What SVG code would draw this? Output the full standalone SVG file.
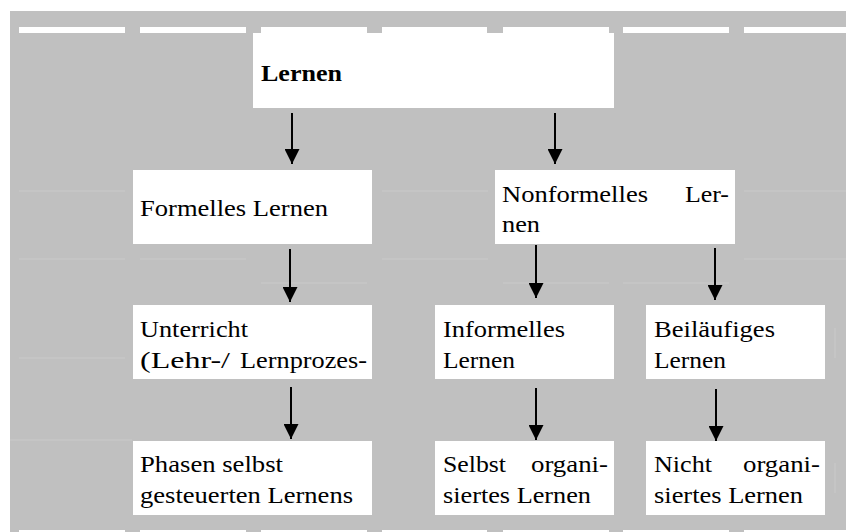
<svg xmlns="http://www.w3.org/2000/svg" width="846" height="532" viewBox="0 0 846 532">
<defs>
<style>
.bg{fill:#c0c0c0}
.seg{fill:#ffffff}
.box{fill:#ffffff}
.grid{stroke:#cacaca;stroke-width:1;fill:none}
.t{font-family:"Liberation Serif","Times New Roman",serif;font-size:24px;fill:#000}
.b{font-weight:bold}
.arr{stroke:#000;stroke-width:2;fill:none;marker-end:url(#ah)}
</style>
<marker id="ah" viewBox="0 0 15 15" refX="15" refY="7.5" markerWidth="15" markerHeight="15" markerUnits="userSpaceOnUse" orient="auto">
<path d="M0,0 L15,7.5 L0,15 z" fill="#000"/>
</marker>
</defs>
<rect class="bg" x="10" y="11" width="836" height="521"/>
<g id="grid">
<path class="grid" d="M19,191H125 M382,191H488 M744,191H846 M19,259H125 M140,259H246 M382,259H488 M744,259H846 M261,283H367 M503,283H609 M623,283H729 M19,358H125 M10,440H132 M835,328V358 M835,463V493"/>
</g>
<g id="top-rule">
<rect class="seg" x="19" y="27" width="106" height="6"/>
<rect class="seg" x="140" y="27" width="106" height="6"/>
<rect class="seg" x="261" y="27" width="106" height="6"/>
<rect class="seg" x="382" y="27" width="105" height="6"/>
<rect class="seg" x="503" y="27" width="106" height="6"/>
<rect class="seg" x="623" y="27" width="106" height="6"/>
<rect class="seg" x="744" y="27" width="102" height="6"/>
</g>
<g id="bottom-rule">
<rect class="seg" x="19" y="530" width="106" height="2"/>
<rect class="seg" x="140" y="530" width="106" height="2"/>
<rect class="seg" x="261" y="530" width="106" height="2"/>
<rect class="seg" x="382" y="530" width="105" height="2"/>
<rect class="seg" x="503" y="530" width="106" height="2"/>
<rect class="seg" x="623" y="530" width="106" height="2"/>
<rect class="seg" x="744" y="530" width="102" height="2"/>
</g>
<g id="connectors">
<line class="arr" x1="292" y1="113" x2="292" y2="164"/>
<line class="arr" x1="555" y1="113" x2="555" y2="164"/>
<line class="arr" x1="290" y1="249" x2="290" y2="302"/>
<line class="arr" x1="536" y1="245" x2="536" y2="298"/>
<line class="arr" x1="715" y1="248" x2="715" y2="300"/>
<line class="arr" x1="291" y1="387" x2="291" y2="439"/>
<line class="arr" x1="536" y1="388" x2="536" y2="440"/>
<line class="arr" x1="716" y1="389" x2="716" y2="441"/>
</g>
<g id="lernen">
<rect class="box" x="253" y="33" width="361" height="75"/>
<text class="t b" x="261" y="81" textLength="81" lengthAdjust="spacingAndGlyphs">Lernen</text>
</g>
<g id="formelles">
<rect class="box" x="133" y="170" width="239" height="74"/>
<text class="t" x="140" y="216" textLength="188" lengthAdjust="spacingAndGlyphs">Formelles Lernen</text>
</g>
<g id="nonformelles">
<rect class="box" x="495" y="170" width="240" height="74"/>
<text class="t" x="502" y="202" textLength="146" lengthAdjust="spacingAndGlyphs">Nonformelles</text>
<text class="t" x="685" y="202" textLength="44" lengthAdjust="spacingAndGlyphs">Ler-</text>
<text class="t" x="502" y="232" textLength="38" lengthAdjust="spacingAndGlyphs">nen</text>
</g>
<g id="unterricht">
<rect class="box" x="133" y="305" width="239" height="74"/>
<text class="t" x="140" y="337" textLength="108" lengthAdjust="spacingAndGlyphs">Unterricht</text>
<text class="t" x="140" y="368" textLength="90" lengthAdjust="spacingAndGlyphs">(Lehr-/</text>
<text class="t" x="240" y="368" textLength="127" lengthAdjust="spacingAndGlyphs">Lernprozes-</text>
</g>
<g id="informelles">
<rect class="box" x="435" y="305" width="179" height="74"/>
<text class="t" x="443" y="337" textLength="122" lengthAdjust="spacingAndGlyphs">Informelles</text>
<text class="t" x="443" y="368" textLength="72" lengthAdjust="spacingAndGlyphs">Lernen</text>
</g>
<g id="beilaeufiges">
<rect class="box" x="646" y="305" width="179" height="74"/>
<text class="t" x="654" y="337" textLength="121" lengthAdjust="spacingAndGlyphs">Beiläufiges</text>
<text class="t" x="654" y="368" textLength="72" lengthAdjust="spacingAndGlyphs">Lernen</text>
</g>
<g id="phasen">
<rect class="box" x="133" y="441" width="239" height="74"/>
<text class="t" x="140" y="472" textLength="143" lengthAdjust="spacingAndGlyphs">Phasen selbst</text>
<text class="t" x="140" y="503" textLength="213" lengthAdjust="spacingAndGlyphs">gesteuerten Lernens</text>
</g>
<g id="selbst">
<rect class="box" x="435" y="441" width="179" height="74"/>
<text class="t" x="443" y="472" textLength="63" lengthAdjust="spacingAndGlyphs">Selbst</text>
<text class="t" x="531" y="472" textLength="77" lengthAdjust="spacingAndGlyphs">organi-</text>
<text class="t" x="443" y="503" textLength="148" lengthAdjust="spacingAndGlyphs">siertes Lernen</text>
</g>
<g id="nicht">
<rect class="box" x="646" y="441" width="179" height="74"/>
<text class="t" x="654" y="472" textLength="58" lengthAdjust="spacingAndGlyphs">Nicht</text>
<text class="t" x="743" y="472" textLength="77" lengthAdjust="spacingAndGlyphs">organi-</text>
<text class="t" x="654" y="503" textLength="149" lengthAdjust="spacingAndGlyphs">siertes Lernen</text>
</g>
</svg>
